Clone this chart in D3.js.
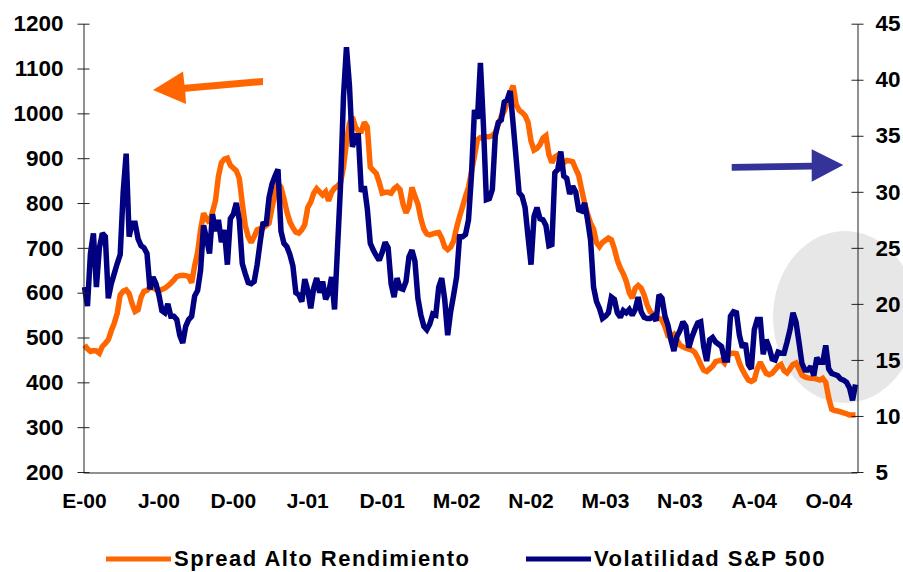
<!DOCTYPE html>
<html>
<head>
<meta charset="utf-8">
<script src="https://cdn.jsdelivr.net/npm/d3@7"></script>
<style>
  html, body { margin: 0; padding: 0; background: #fff; }
  svg { display: block; font-family: "Liberation Sans", Arial, sans-serif; font-weight: bold; }
</style>
</head>
<body>
<svg id="chart" width="903" height="572"></svg>
<script>
// Weekly series, first week of January 2000 to December 2004
const spread = [
  483,475,469,471,470,465,480,487,495,515,532,554,595,603,606,598,575,558,562,590,
  603,
  605,612,611,607,604,607,610,615,621,628,636,638,639,638,636,622,660,690,740,777,765,756,780,805,860,890,898,900,884,878,872,855,800,750,725,712,725,740,
  743,
  745,750,755,790,820,844,835,810,780,758,745,735,733,740,752,790,802,822,832,825,818,825,805,824,833,838,845,880,935,978,992,970,960,960,980,970,880,
  873,
  866,846,822,824,824,822,832,837,830,798,778,792,835,815,798,765,742,731,729,731,733,734,722,702,696,702,715,745,770,792,815,835,870,905,941,946,948,948,
  948,
  950,958,975,993,1005,1025,1045,1062,1020,1007,1002,995,980,938,918,922,930,945,950,908,890,903,907,898,890,895,894,892,876,862,830,800,775,755,742,712,703,712,
  717,
  722,718,698,672,655,642,625,600,588,610,616,610,595,573,558,552,547,543,539,524,504,502,507,495,483,479,476,474,472,467,455,440,427,424,430,436,446,
  448,
  450,443,458,465,465,464,443,428,416,405,402,406,430,445,432,420,417,420,428,436,440,426,421,430,440,443,430,416,412,410,409,409,407,405,409,400,365,340,
  337,
  336,334,332,330,327,327,327
];

const volatilidad = [
  21.5,19.8,24.5,26.3,21.5,25.0,26.3,26.0,20.5,21.8,22.7,23.6,24.4,30.0,33.4,26.0,27.2,27.2,25.8,25.2,
  25.0,
  24.5,21.3,22.4,21.8,20.8,19.4,19.2,20.0,18.9,18.9,18.6,17.2,16.5,18.0,18.6,18.9,20.7,21.2,23.0,27.0,25.8,24.5,28.0,26.5,27.5,25.5,26.6,23.5,27.6,28.0,29.0,27.5,23.6,22.7,21.9,21.8,22.0,23.5,
  25.5,
  27.3,27.0,29.5,30.7,31.4,32.0,26.5,25.4,25.1,24.4,23.4,21.0,20.8,20.2,22.2,21.2,19.6,21.4,22.3,21.0,22.0,20.4,21.0,22.4,19.5,25.0,30.5,38.5,42.9,39.5,34.0,35.0,35.0,30.0,30.5,28.5,25.4,
  24.8,
  24.3,23.9,24.6,25.5,25.0,21.8,20.6,22.3,21.4,21.3,22.0,24.2,24.8,23.8,20.5,19.0,18.0,17.7,18.2,19.1,19.0,21.5,22.3,20.4,17.2,19.3,20.8,22.4,26.0,26.0,26.2,27.5,31.5,37.3,36.5,41.5,36.0,29.3,
  29.4,
  30.2,35.0,36.2,36.4,38.0,38.2,39.0,36.0,33.0,29.9,29.6,28.6,26.0,23.5,27.8,28.6,27.6,27.5,27.0,25.2,25.3,31.7,32.0,33.6,31.4,31.2,29.8,30.5,30.0,28.4,28.3,29.0,27.5,25.7,21.5,20.2,19.6,18.7,
  18.9,
  19.2,20.6,20.4,19.2,18.8,19.4,19.2,19.5,19.0,19.5,20.6,19.3,18.8,18.7,18.7,18.9,18.5,20.8,20.5,18.9,18.1,16.8,15.8,17.1,17.6,18.4,18.0,16.1,17.0,17.7,18.3,18.4,16.2,14.9,16.8,17.0,16.6,
  16.4,
  16.2,15.0,15.0,18.9,19.3,19.2,17.2,16.1,16.5,14.6,14.2,17.7,18.6,18.6,15.5,16.8,16.1,15.1,15.0,15.7,15.6,15.6,16.6,17.7,19.2,18.4,16.6,14.7,14.1,14.1,14.4,13.6,15.2,14.8,14.8,16.3,14.2,13.8,
  13.7,
  13.6,13.3,13.2,13.0,12.5,11.4,12.8
];

// Weekly categories (Mondays)
const semanas = d3.timeMonday.range(new Date(2000, 0, 3), new Date(2000, 0, 3 + 7 * spread.length));

// Axis ticks
const xTickLabels = ["E-00", "J-00", "D-00", "J-01", "D-01", "M-02", "N-02", "M-03", "N-03", "A-04", "O-04"];
const xTickStep = 25; // one label every 25 weeks
const leftTicks = [200, 300, 400, 500, 600, 700, 800, 900, 1000, 1100, 1200];
const rightTicks = [5, 10, 15, 20, 25, 30, 35, 40, 45];

const seriesNames = ["Spread Alto Rendimiento", "Volatilidad S&P 500"];
const colors = { spread: "#FF6600", vol: "#000080", volArrow: "#333399" };

const plot = { left: 83, right: 857, top: 23.7, bottom: 472 };

const svg = d3.select("#chart");

const x = d3.scaleBand()
  .domain(semanas)
  .range([plot.left, plot.right])
  .padding(0);
const xc = d => x(d) + x.bandwidth() / 2;

const yL = d3.scaleLinear().domain([200, 1200]).range([plot.bottom, plot.top]);
const yR = d3.scaleLinear().domain([5, 45]).range([plot.bottom, plot.top]);

// Highlight ellipse behind the series
svg.append("ellipse")
  .attr("cx", 845).attr("cy", 317)
  .attr("rx", 72).attr("ry", 86)
  .attr("fill", "#e7e7e7");

// Series lines
const lineSpread = d3.line()
  .x((d, i) => xc(semanas[i]))
  .y(d => yL(d));
const lineVol = d3.line()
  .x((d, i) => xc(semanas[i]))
  .y(d => yR(d));

svg.append("path")
  .datum(spread)
  .attr("d", lineSpread)
  .attr("fill", "none")
  .attr("stroke", colors.spread)
  .attr("stroke-width", 5.5)
  .attr("stroke-linejoin", "miter")
  .attr("stroke-miterlimit", 2);

svg.append("path")
  .datum(volatilidad)
  .attr("d", lineVol)
  .attr("fill", "none")
  .attr("stroke", colors.vol)
  .attr("stroke-width", 5.5)
  .attr("stroke-linejoin", "miter")
  .attr("stroke-miterlimit", 2);

// Axes
const gL = svg.append("g")
  .attr("transform", `translate(${plot.left + 0.5},0)`)
  .call(d3.axisLeft(yL).tickValues(leftTicks).tickSizeOuter(0).tickSizeInner(6).tickFormat(d3.format("d")));
gL.selectAll(".tick line").attr("x1", 6).attr("x2", -6).attr("stroke", "#222");
gL.selectAll(".tick text").attr("x", -20).attr("font-size", 22.5).attr("font-weight", "bold")
  .attr("fill", "#000").attr("font-family", "Liberation Sans, Arial, sans-serif");
gL.select(".domain").attr("stroke", "#222");

const gR = svg.append("g")
  .attr("transform", `translate(${plot.right + 0.5},0)`)
  .call(d3.axisRight(yR).tickValues(rightTicks).tickSizeOuter(0).tickSizeInner(6).tickFormat(d3.format("d")));
gR.selectAll(".tick line").attr("x1", -6).attr("x2", 6).attr("stroke", "#222");
gR.selectAll(".tick text").attr("x", 18).attr("font-size", 22.5).attr("font-weight", "bold")
  .attr("fill", "#000").attr("font-family", "Liberation Sans, Arial, sans-serif");
gR.select(".domain").attr("stroke", "#222");

const xTickDates = xTickLabels.map((_, k) => semanas[k * xTickStep]);
const gB = svg.append("g")
  .attr("transform", `translate(0,${plot.bottom + 0.5})`)
  .call(d3.axisBottom(x).tickValues(xTickDates).tickSize(0).tickSizeOuter(0)
    .tickFormat((d, k) => xTickLabels[k]));
gB.selectAll(".tick text").attr("y", 21).attr("font-size", 21).attr("font-weight", "bold")
  .attr("fill", "#000").attr("font-family", "Liberation Sans, Arial, sans-serif");
gB.select(".domain").attr("stroke", "#222");

// Direction arrows
svg.append("polygon")
  .attr("points", [[153, 90], [183, 71.5], [184.5, 84.8], [263, 78], [263, 85], [185.3, 91.8], [186, 104]].join(" "))
  .attr("fill", colors.spread);

svg.append("polygon")
  .attr("points", [[731.7, 164], [811.7, 162.7], [811.7, 149.3], [843.3, 165], [811.7, 181.7], [811.7, 169.5], [731.7, 170.7]].join(" "))
  .attr("fill", colors.volArrow);

// Legend
const legend = svg.append("g").attr("font-size", 22).attr("font-weight", "bold");
const legendItems = [
  { name: seriesNames[0], color: colors.spread, x0: 106, x1: 171, tx: 174 },
  { name: seriesNames[1], color: colors.vol, x0: 526, x1: 591, tx: 594 }
];
legendItems.forEach(it => {
  legend.append("line")
    .attr("x1", it.x0).attr("x2", it.x1)
    .attr("y1", 559).attr("y2", 559)
    .attr("stroke", it.color).attr("stroke-width", 5);
  legend.append("text")
    .attr("x", it.tx).attr("y", 566)
    .attr("letter-spacing", 1.5)
    .attr("fill", "#000")
    .text(it.name);
});
</script>
</body>
</html>
